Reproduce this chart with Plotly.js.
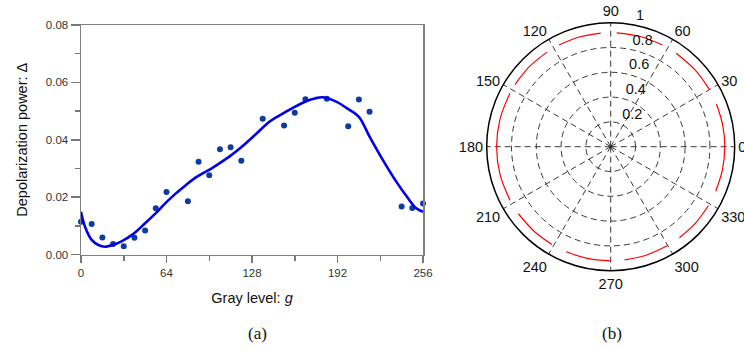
<!DOCTYPE html>
<html>
<head>
<meta charset="utf-8">
<script src="https://cdn.plot.ly/plotly-3.0.1.min.js"></script>
<style>html,body{margin:0;padding:0;background:#fff;}#chart{width:744px;height:350px;}</style>
</head>
<body>
<div id="chart"></div>
<script>
// (a) measured depolarization power vs gray level
const grayLevels = [0,8,16,24,32,40,48,56,64,80,88,96,104,112,120,136,152,160,168,184,200,208,216,240,248,256];
const depolPower = [0.0114,0.0106,0.0059,0.0037,0.0029,0.0058,0.0084,0.0161,0.0218,0.0186,0.0323,0.0276,0.0367,0.0374,0.0327,0.0473,0.0450,0.0494,0.0541,0.0543,0.0447,0.0540,0.0498,0.0167,0.0162,0.0178];
// (a) fitted curve
const fitGray = [0,3,8,13,18,23,30,39,48,56,63,71,78,86,99,111,119,131,141,149,159,169,175,181,191,201,208,216,226,236,244,251,256];
const fitDepol = [0.0149,0.0097,0.0051,0.0033,0.0027,0.0032,0.0045,0.0071,0.0109,0.0144,0.0178,0.0213,0.0240,0.0269,0.0304,0.0341,0.0370,0.0420,0.0463,0.0486,0.0512,0.0535,0.0544,0.0548,0.0533,0.0504,0.0480,0.0411,0.0329,0.0254,0.0201,0.0161,0.0149];
const xTickVals = [0,64,128,192,256];
const xTickText = ['0','64','128','192','256'];
const yTickVals = [0,0.02,0.04,0.06,0.08];
const yTickText = ['0.00','0.02','0.04','0.06','0.08'];
// (b) polar plot (red curve, drawn in pieces)
const redTheta = [-23,-12,0,11,22,null,30,42,55,null,63,75,87,null,95,106,117,null,124,136,147,null,152,166,180,194,208,null,216,228,239,null,247,258,270,null,277,288,300,null,307,318,329];
const redR = [0.92,0.92,0.92,0.92,0.92,null,0.92,0.92,0.92,null,0.92,0.92,0.92,null,0.92,0.92,0.92,null,0.92,0.92,0.92,null,0.92,0.92,0.92,0.92,0.92,null,0.92,0.92,0.92,null,0.92,0.92,0.92,null,0.92,0.92,0.92,null,0.92,0.92,0.92];
const angTicks = [0,30,60,90,120,150,180,210,240,270,300,330];
const radTicks = [0.2,0.4,0.6,0.8,1];
const radTickText = ['0.2','0.4','0.6','0.8','1'];
const radLabelAngle = 82;

const W = 744, H = 350;
const traces = [
  {type:'scatter', x:grayLevels, y:depolPower, mode:'markers', marker:{color:'#0b3c9e', size:6}, cliponaxis:false, showlegend:false, xaxis:'x', yaxis:'y'},
  {type:'scatter', x:fitGray, y:fitDepol, mode:'lines', line:{color:'#0000ee', width:2.6, shape:'spline', smoothing:1}, showlegend:false, xaxis:'x', yaxis:'y'},
  {type:'scatterpolar', r:redR, theta:redTheta, mode:'lines', line:{color:'#ff0000', width:1.2, shape:'spline', smoothing:1}, connectgaps:false, showlegend:false, subplot:'polar'},
  {type:'scatterpolar', r:radTicks, theta:radTicks.map(() => radLabelAngle), mode:'text',
    text:radTickText.map(t => '\u00a0\u00a0' + t), textposition:'top right', cliponaxis:false,
    textfont:{family:'Liberation Sans, Arial, sans-serif', size:14.5, color:'#111'}, showlegend:false, subplot:'polar'}
];
const axFont = {family:'Liberation Sans, Arial, sans-serif', size:11.5, color:'#333'};
const layout = {
  width:W, height:H,
  margin:{l:0, r:0, t:0, b:0},
  paper_bgcolor:'#fff', plot_bgcolor:'#fff',
  showlegend:false,
  xaxis:{domain:[81/W, 423/W], range:[0,256], tickvals:xTickVals, ticktext:xTickText,
    ticks:'outside', ticklen:7, tickcolor:'#777', tickwidth:1.5, tickfont:axFont,
    minor:{tickvals:[32,96,160,224], ticks:'outside', ticklen:5, tickcolor:'#777', tickwidth:1.5, showgrid:false},
    showline:true, linecolor:'#808080', linewidth:1.5, mirror:true, showgrid:false, zeroline:false,
    title:{text:'Gray level: <i>g</i>', font:{family:'Liberation Sans, Arial, sans-serif', size:14.5, color:'#111'}, standoff:15}},
  yaxis:{domain:[(H-254.5)/H, (H-25)/H], range:[0,0.08], tickvals:yTickVals, ticktext:yTickText,
    ticks:'outside', ticklen:9, tickcolor:'#777', tickwidth:1.5, tickfont:axFont,
    minor:{tickvals:[0.01,0.03,0.05,0.07], ticks:'outside', ticklen:5, tickcolor:'#777', tickwidth:1.5, showgrid:false},
    showline:true, linecolor:'#808080', linewidth:1.5, mirror:true, showgrid:false, zeroline:false,
    title:{text:'Depolarization power: Δ', font:{family:'Liberation Sans, Arial, sans-serif', size:14.5, color:'#111'}, standoff:14}},
  polar:{
    domain:{x:[486.7/W, 734.7/W], y:[(H-270.7)/H, (H-22.7)/H]},
    bgcolor:'#fff',
    angularaxis:{direction:'counterclockwise', rotation:0, tickvals:angTicks, ticktext:angTicks.map(String),
      ticks:'', showline:true, linecolor:'#000', linewidth:1.5,
      showgrid:true, gridcolor:'#222', gridwidth:0.9, griddash:'6px,4px',
      tickfont:{family:'Liberation Sans, Arial, sans-serif', size:14.5, color:'#111'}},
    radialaxis:{range:[0,1], tickvals:radTicks, showticklabels:false, angle:radLabelAngle,
      showline:false, ticks:'', showgrid:true, gridcolor:'#222', gridwidth:0.9, griddash:'6px,4px'}
  },
  annotations:[
    {text:'(a)', x:257, y:333, xref:'paper', yref:'paper', xanchor:'center', yanchor:'middle', showarrow:false, font:{family:'Liberation Serif, Times New Roman, serif', size:17, color:'#111'}},
    {text:'(b)', x:612, y:333, xref:'paper', yref:'paper', xanchor:'center', yanchor:'middle', showarrow:false, font:{family:'Liberation Serif, Times New Roman, serif', size:17, color:'#111'}}
  ]
};
// convert caption pixel positions to paper coordinates
layout.annotations.forEach(a => { a.x = a.x / W; a.y = 1 - a.y / H; });
Plotly.newPlot('chart', traces, layout, {staticPlot:true, displayModeBar:false});
</script>
</body>
</html>
